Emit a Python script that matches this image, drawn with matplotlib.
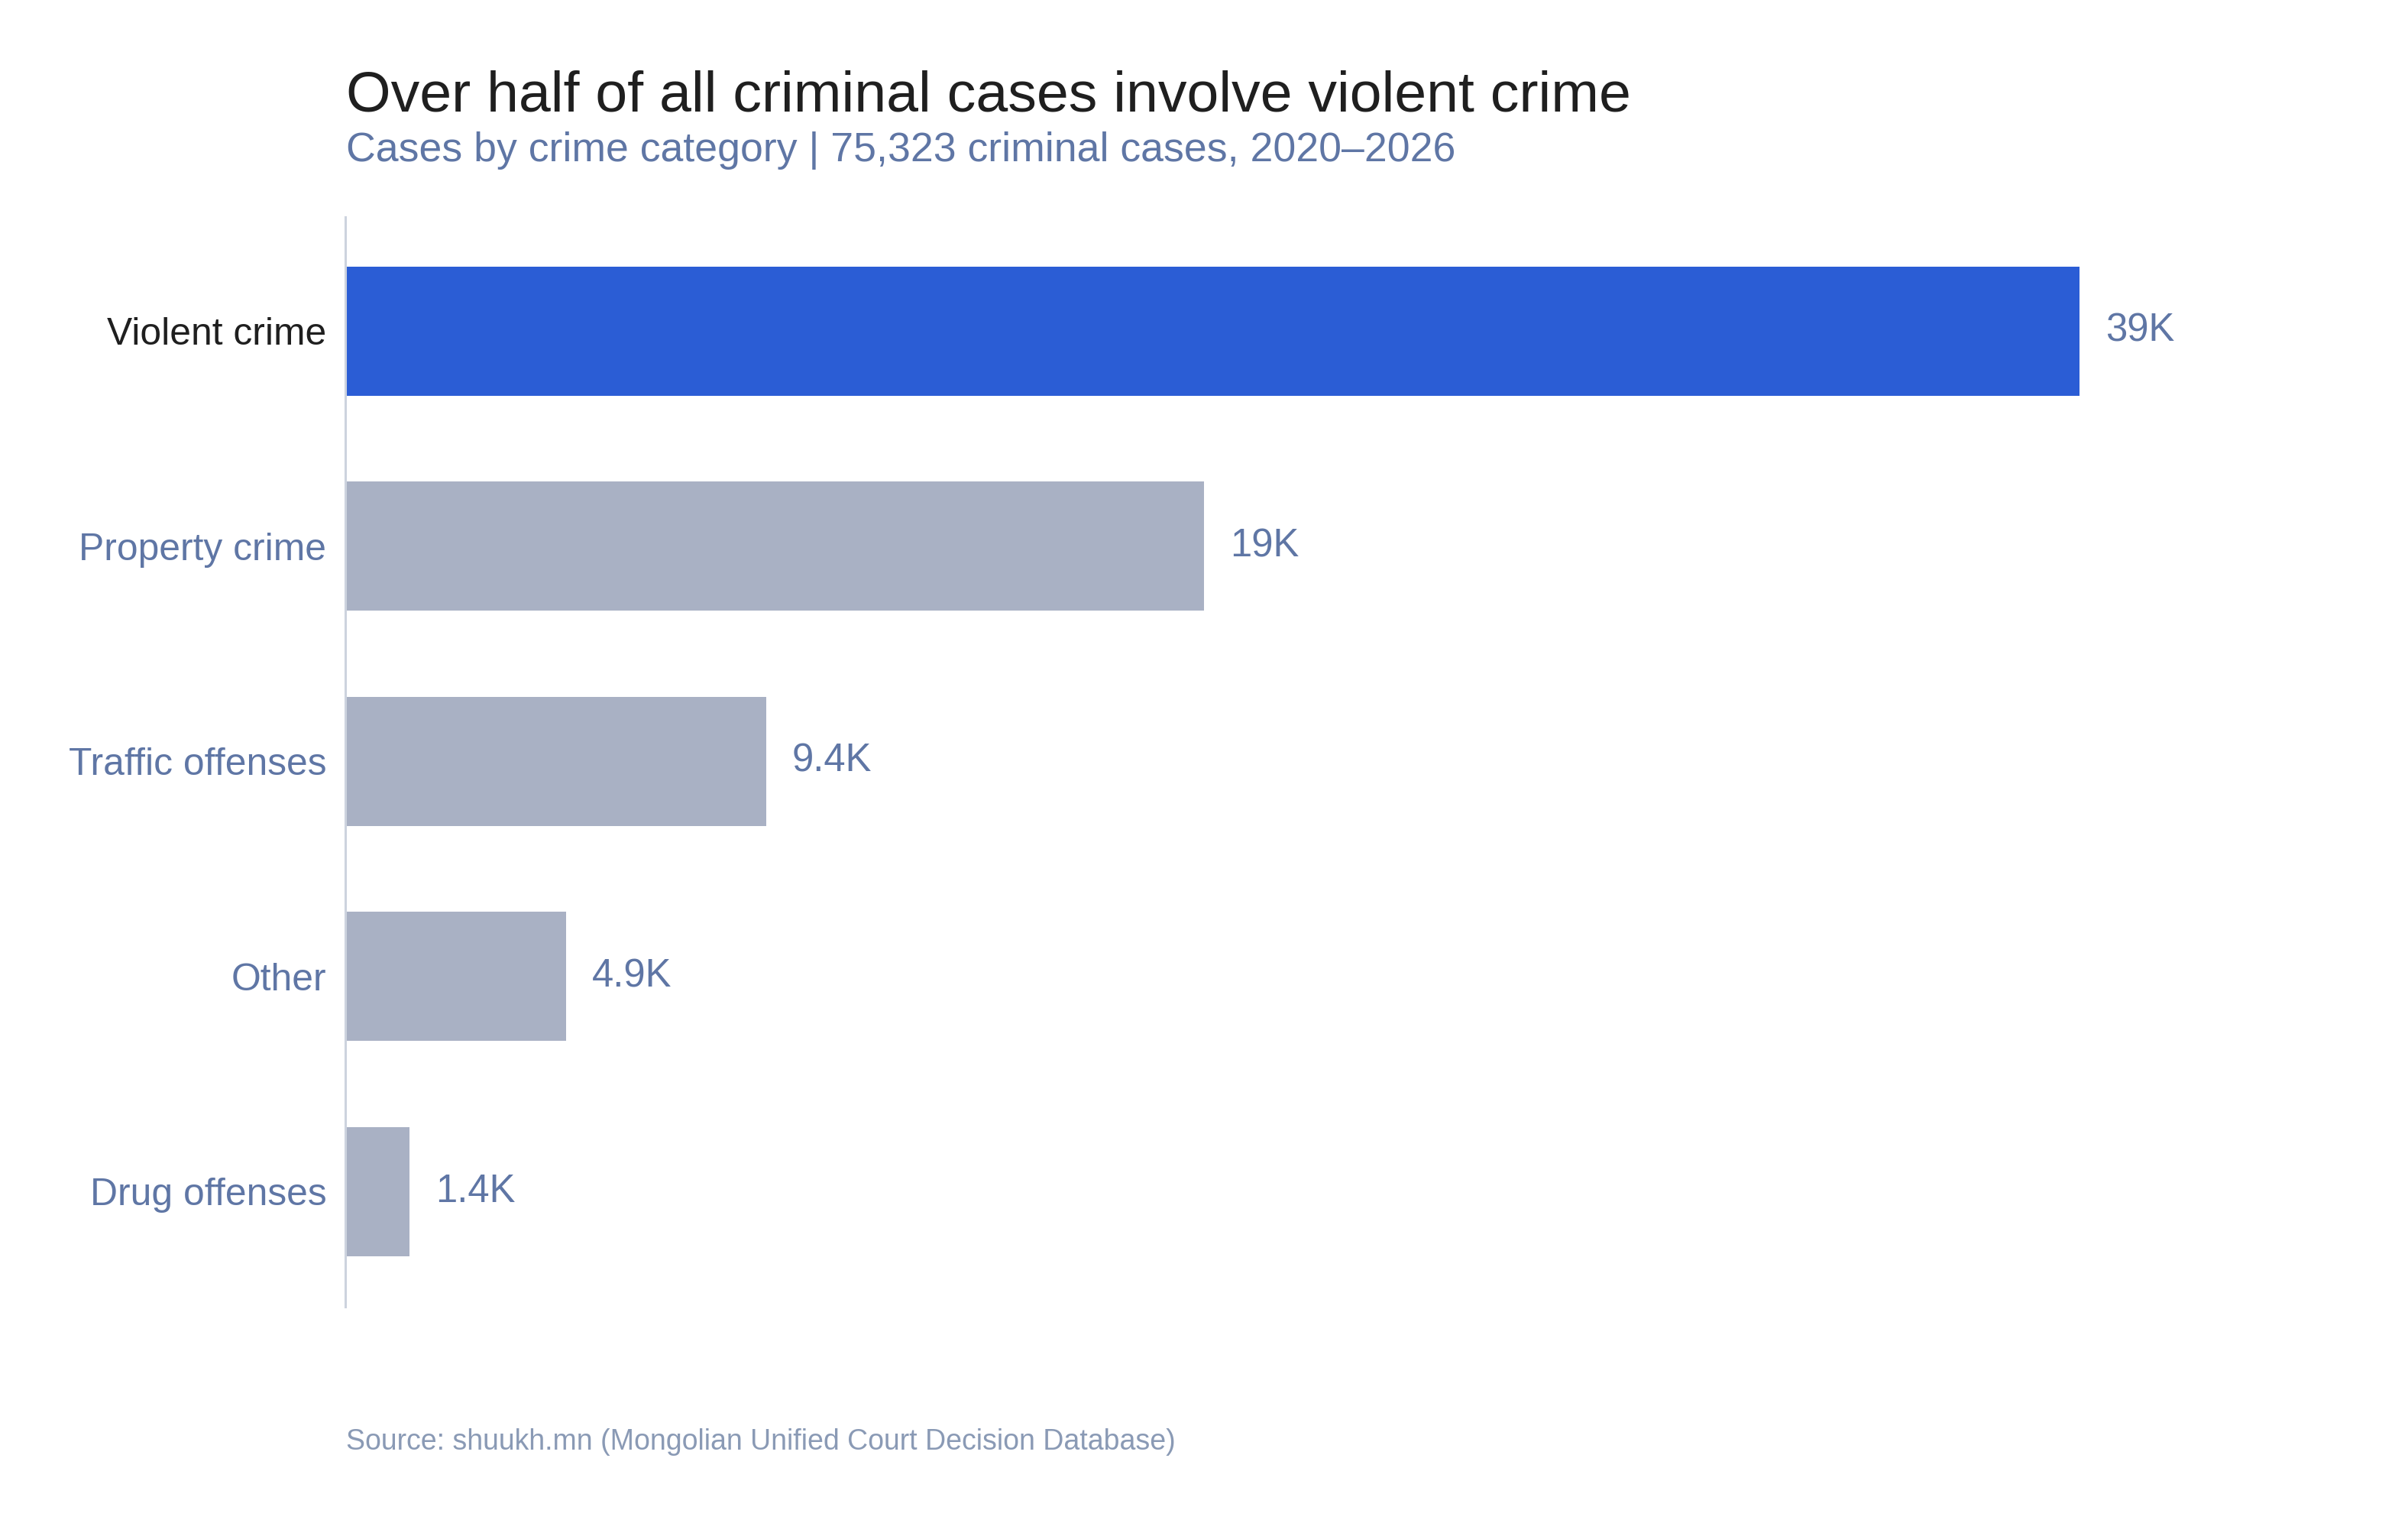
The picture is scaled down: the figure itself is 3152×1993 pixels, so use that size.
import matplotlib
matplotlib.use("Agg")
import matplotlib.pyplot as plt

# Data
categories = ["Violent crime", "Property crime", "Traffic offenses", "Other", "Drug offenses"]
cases = [38700, 19150, 9380, 4920, 1430]
highlight = "Violent crime"

plt.rcParams['font.family'] = ['Liberation Sans', 'DejaVu Sans']

W, H, DPI = 3152, 1993, 200
fig = plt.figure(figsize=(W / DPI, H / DPI), dpi=DPI)

# Axes placement in pixels
left_px, right_px = 452.5, 3000
top_px, bottom_px = 284, 1710
bar_end_px = 2722
ax = fig.add_axes([left_px / W, 1 - bottom_px / H,
                   (right_px - left_px) / W, (bottom_px - top_px) / H])

blue = "#2b5dd5"
grey = "#a9b1c4"
label_blue = "#5f76a5"
dark = "#1f1f1f"

colors = [blue if c == highlight else grey for c in categories]
y = list(range(len(categories)))
ax.barh(y, cases, height=0.6, color=colors)

ax.set_xlim(0, max(cases) * (right_px - left_px) / (bar_end_px - left_px))
ax.set_ylim(4.536, -0.531)

# Value labels
for yi, v in zip(y, cases):
    ax.annotate(f"{v / 1000:.2g}K", xy=(v, yi), xytext=(12.3, 0),
                textcoords="offset points", va="center", ha="left",
                fontsize=18.3, color=label_blue)

# Axis styling
ax.set_yticks(y)
ax.set_yticklabels(categories, fontsize=17.9)
for lbl, c in zip(ax.get_yticklabels(), categories):
    lbl.set_color(dark if c == highlight else label_blue)
ax.tick_params(axis="y", length=0, pad=9)
ax.set_xticks([])
for s in ["top", "right", "bottom"]:
    ax.spines[s].set_visible(False)
ax.spines["left"].set_color("#cdd3de")
ax.spines["left"].set_linewidth(1.1)

# Titles and source
fig.text(453 / W, 1 - 145 / H, "Over half of all criminal cases involve violent crime",
         fontsize=27.1, color=dark, va="baseline", ha="left")
fig.text(453 / W, 1 - 211 / H, "Cases by crime category | 75,323 criminal cases, 2020\u20132026",
         fontsize=19.3, color=label_blue, va="baseline", ha="left")
fig.text(453 / W, 1 - 1897 / H, "Source: shuukh.mn (Mongolian Unified Court Decision Database)",
         fontsize=13.5, color="#8a9ab5", va="baseline", ha="left")

fig.savefig("out.png", dpi=DPI)
